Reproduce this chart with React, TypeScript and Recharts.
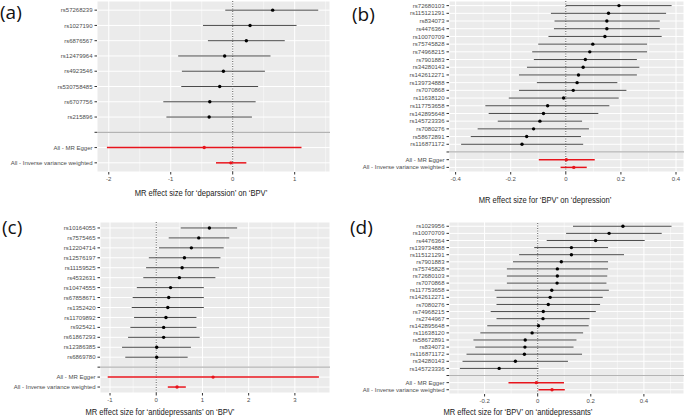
import React from "react";
import {
  ScatterChart,
  Scatter,
  XAxis,
  YAxis,
  CartesianGrid,
  ReferenceLine,
  ErrorBar,
} from "recharts";

// (a) depression -> BPV
const snpsA = ["rs57268239", "rs1027190", "rs6876567", "rs12479964", "rs4923546", "rs530758485", "rs6707756", "rs215896"];
const betaA = [0.645, 0.28, 0.22, -0.13, -0.15, -0.21, -0.37, -0.38];
const loA = [-0.12, -0.48, -0.4, -0.88, -0.82, -0.83, -1.12, -1.07];
const hiA = [1.38, 1.03, 0.84, 0.61, 0.52, 0.41, 0.37, 0.31];
const sumBetaA = [-0.46, -0.03];
const sumLoA = [-2.03, -0.27];
const sumHiA = [1.11, 0.22];
const ticksA = [-2, -1, 0, 1];
const minorA = [-1.5, -0.5, 0.5, 1.5];

// (b) BPV -> depression
const snpsB = ["rs72680103", "rs115121291", "rs834073", "rs4476364", "rs10070709", "rs75745828", "rs74968215", "rs7901883", "rs34280143", "rs142612271", "rs139734888", "rs7070868", "rs11638120", "rs117753658", "rs142895648", "rs145723336", "rs7080276", "rs58672891", "rs116871172"];
const betaB = [0.193, 0.155, 0.149, 0.149, 0.142, 0.098, 0.087, 0.071, 0.063, 0.046, 0.041, 0.027, -0.008, -0.066, -0.081, -0.094, -0.117, -0.142, -0.159];
const loB = [0.0, -0.054, -0.041, -0.043, -0.063, -0.1, -0.122, -0.116, -0.141, -0.17, -0.105, -0.17, -0.207, -0.292, -0.28, -0.247, -0.32, -0.345, -0.38];
const hiB = [0.384, 0.364, 0.341, 0.341, 0.348, 0.295, 0.295, 0.258, 0.267, 0.258, 0.187, 0.22, 0.192, 0.158, 0.118, 0.059, 0.084, 0.055, 0.063];
const sumBetaB = [0.002, 0.029];
const sumLoB = [-0.098, -0.019];
const sumHiB = [0.105, 0.076];
const ticksB = [-0.4, -0.2, 0, 0.2, 0.4];
const minorB = [-0.3, -0.1, 0.1, 0.3];

// (c) antidepressants -> BPV
const snpsC = ["rs10164055", "rs7575465", "rs12204714", "rs12576197", "rs11159525", "rs4532631", "rs10474555", "rs67858671", "rs1352420", "rs11709892", "rs925421", "rs61867293", "rs12386385", "rs6869780"];
const betaC = [1.15, 0.92, 0.76, 0.61, 0.56, 0.5, 0.31, 0.27, 0.25, 0.21, 0.16, 0.16, 0.01, 0.01];
const loC = [0.53, 0.27, 0.06, -0.16, -0.22, -0.28, -0.42, -0.51, -0.53, -0.48, -0.56, -0.61, -0.74, -0.67];
const hiC = [1.75, 1.58, 1.46, 1.39, 1.36, 1.28, 1.03, 1.03, 1.03, 0.87, 0.87, 0.94, 0.75, 0.68];
const sumBetaC = [1.23, 0.45];
const sumLoC = [-1.05, 0.25];
const sumHiC = [3.52, 0.64];
const ticksC = [-1, 0, 1, 2, 3];
const minorC = [-0.5, 0.5, 1.5, 2.5, 3.5];

// (d) BPV -> antidepressants
const snpsD = ["rs1029956", "rs10070709", "rs4476364", "rs139734888", "rs115121291", "rs7901883", "rs75745828", "rs72680103", "rs7070868", "rs117753658", "rs142612271", "rs7080276", "rs74968215", "rs2744967", "rs142895648", "rs11638120", "rs58672891", "rs834073", "rs116871172", "rs34280143", "rs145723336"];
const betaD = [0.321, 0.269, 0.218, 0.127, 0.127, 0.089, 0.074, 0.074, 0.073, 0.053, 0.047, 0.04, 0.021, 0.02, 0.003, -0.021, -0.047, -0.048, -0.05, -0.084, -0.145];
const loD = [0.133, 0.107, 0.034, -0.013, -0.07, -0.093, -0.116, -0.116, -0.116, -0.162, -0.155, -0.155, -0.177, -0.155, -0.19, -0.216, -0.242, -0.235, -0.268, -0.283, -0.293];
const hiD = [0.504, 0.467, 0.403, 0.265, 0.325, 0.265, 0.265, 0.262, 0.259, 0.268, 0.245, 0.235, 0.219, 0.195, 0.192, 0.171, 0.146, 0.135, 0.167, 0.114, 0.003];
const sumBetaD = [-0.005, 0.054];
const sumLoD = [-0.11, 0.003];
const sumHiD = [0.099, 0.102];
const ticksD = [-0.2, 0, 0.2, 0.4];
const minorD = [-0.3, -0.1, 0.1, 0.3, 0.5];

const summaryLabels = ["All - MR Egger", "All - Inverse variance weighted"];

const FONT = "'Liberation Sans', Arial, sans-serif";
const tickFont = { fontSize: 6, fill: "#4d4d4d", fontFamily: FONT };

function ForestPanel(props: any) {
  const { snps, beta, lo, hi, sumBeta, sumLo, sumHi, domain, ticks, minor } = props;
  const rows = [...snps, "", ...summaryLabels];
  const snpData = snps.map((s: string, i: number) => ({ x: beta[i], y: i, err: [beta[i] - lo[i], hi[i] - beta[i]] }));
  const sumData = sumBeta.map((b: number, j: number) => ({
    x: b,
    y: snps.length + 1 + j,
    err: [b - sumLo[j], sumHi[j] - b],
  }));

  const RowTick = (p: any) => (
    <text
      x={p.x}
      y={p.y}
      dy="0.35em"
      textAnchor="end"
      fontSize={6}
      fill="#4d4d4d"
      fontFamily={FONT}
    >
      {rows[p.payload.value]}
    </text>
  );

  return (
    <div style={{ position: "absolute", left: props.left, top: props.top }}>
      <ScatterChart
        width={props.width}
        height={props.height}
        margin={{ top: props.mt, right: props.mr, bottom: 0, left: 0 }}
      >
        <CartesianGrid fill="#EBEBEB" stroke="#ffffff" strokeWidth={1} />
        {minor.map((m: number) => (
          <ReferenceLine key={m} x={m} stroke="#ffffff" strokeWidth={0.5} />
        ))}
        <ReferenceLine y={snps.length} stroke="#b3b3b3" strokeWidth={1.2} />
        <ReferenceLine x={0} stroke="#333" strokeWidth={0.8} strokeDasharray="1 1.5" />
        <XAxis
          type="number"
          dataKey="x"
          domain={domain}
          allowDataOverflow
          ticks={ticks}
          interval={0}
          axisLine={false}
          tickLine={{ stroke: "#333" }}
          tickSize={2.5}
          tickMargin={2}
          tick={tickFont}
          height={20}
        />
        <YAxis
          type="number"
          dataKey="y"
          domain={[-0.6, rows.length - 0.4]}
          allowDataOverflow
          reversed
          ticks={rows.map((_, i) => i)}
          interval={0}
          axisLine={false}
          tickLine={{ stroke: "#333" }}
          tickSize={2.5}
          tickMargin={2}
          tick={RowTick}
          width={props.yw}
        />
        <Scatter
          data={snpData}
          isAnimationActive={false}
          shape={(p: any) => <circle cx={p.cx} cy={p.cy} r={1.7} fill="#000" />}
        >
          <ErrorBar dataKey="err" direction="x" width={0} stroke="#4a4a4a" strokeWidth={1} />
        </Scatter>
        <Scatter
          data={sumData}
          isAnimationActive={false}
          shape={(p: any) => <circle cx={p.cx} cy={p.cy} r={1.7} fill="#e8141c" />}
        >
          <ErrorBar dataKey="err" direction="x" width={0} stroke="#e8141c" strokeWidth={1.5} />
        </Scatter>
      </ScatterChart>
    </div>
  );
}

const titleStyle: React.CSSProperties = {
  position: "absolute",
  fontFamily: FONT,
  fontSize: 9.5,
  color: "#1a1a1a",
  whiteSpace: "nowrap",
  transform: "translate(-50%, -50%) scaleX(0.8)",
  lineHeight: 1,
};

const tagStyle: React.CSSProperties = {
  position: "absolute",
  fontFamily: "'Open Sans', sans-serif",
  fontSize: 19,
  lineHeight: 1,
  color: "#111",
};

export default function App() {
  return (
    <div style={{ position: "relative", width: 685, height: 419, background: "#fff", overflow: "hidden" }}>
      <style>{`body{margin:0}`}</style>
      <ForestPanel
        left={0} top={0} width={335} height={192} mt={1} mr={5} yw={97}
        snps={snpsA} beta={betaA} lo={loA} hi={hiA}
        sumBeta={sumBetaA} sumLo={sumLoA} sumHi={sumHiA}
        domain={[-2.19, 1.57]} ticks={ticksA} minor={minorA}
      />
      <ForestPanel
        left={340} top={0} width={345} height={192} mt={1} mr={1} yw={109}
        snps={snpsB} beta={betaB} lo={loB} hi={hiB}
        sumBeta={sumBetaB} sumLo={sumLoB} sumHi={sumHiB}
        domain={[-0.424, 0.429]} ticks={ticksB} minor={minorB}
      />
      <ForestPanel
        left={0} top={210} width={335} height={203} mt={12} mr={5} yw={100}
        snps={snpsC} beta={betaC} lo={loC} hi={hiC}
        sumBeta={sumBetaC} sumLo={sumLoC} sumHi={sumHiC}
        domain={[-1.217, 3.76]} ticks={ticksC} minor={minorC}
      />
      <ForestPanel
        left={340} top={210} width={345} height={204} mt={12} mr={1} yw={109}
        snps={snpsD} beta={betaD} lo={loD} hi={hiD}
        sumBeta={sumBetaD} sumLo={sumLoD} sumHi={sumHiD}
        domain={[-0.334, 0.551]} ticks={ticksD} minor={minorD}
      />
      <div style={{ ...titleStyle, left: 201, top: 193 }}>MR effect size for ‘deparssion’ on ‘BPV’</div>
      <div style={{ ...titleStyle, left: 545, top: 200 }}>MR effect size for ‘BPV’ on ‘depression’</div>
      <div style={{ ...titleStyle, left: 160, top: 412 }}>MR effect size for ‘antidepressants’ on ‘BPV’</div>
      <div style={{ ...titleStyle, left: 518, top: 412 }}>MR effect size for ‘BPV’ on ‘antidepressants’</div>
      <div style={{ ...tagStyle, left: 0, top: 3 }}>(a)</div>
      <div style={{ ...tagStyle, left: 352, top: 5 }}>(b)</div>
      <div style={{ ...tagStyle, left: 2, top: 218 }}>(c)</div>
      <div style={{ ...tagStyle, left: 350, top: 218 }}>(d)</div>
    </div>
  );
}
